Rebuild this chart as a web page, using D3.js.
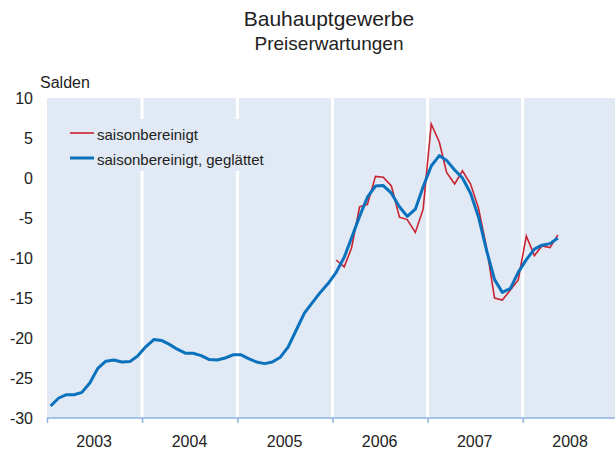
<!DOCTYPE html>
<html>
<head>
  <meta charset="utf-8">
  <script src="https://cdn.jsdelivr.net/npm/d3@7"></script>
  <style>
    body { margin: 0; background: #fff; }
    text { font-family: "Liberation Sans", Arial, sans-serif; fill: #222; }
  </style>
</head>
<body>
<svg id="chart" width="615" height="452"></svg>
<script>
  // year labels on the x axis
  let years = ["2003", "2004", "2005", "2006", "2007", "2008"]
  let yTicks = [-30, -25, -20, -15, -10, -5, 0, 5, 10]

  // saisonbereinigt, geglättet: monthly from Jan 2003
  let smoothStart = [2003, 0]
  let smoothed = [
    -28.5, -27.5, -27.1, -27.1, -26.8, -25.6, -23.8, -22.9, -22.75, -23.0, -22.95, -22.25,
    -21.1, -20.2, -20.3, -20.8, -21.4, -21.9, -21.9, -22.2, -22.7, -22.75, -22.5, -22.1,
    -22.1, -22.6, -23.0, -23.2, -23.0, -22.4, -21.1, -19.0, -16.9, -15.6, -14.3, -13.2,
    -11.8, -9.9, -7.5, -4.8, -2.4, -1.0, -0.95, -1.9, -3.6, -4.8, -3.9, -1.1,
    1.5, 2.8, 2.2, 1.0, 0.0, -1.9, -4.8, -9.0, -12.7, -14.3, -13.8, -11.8,
    -10.2, -8.9, -8.4, -8.2, -7.5
  ]

  // saisonbereinigt: monthly from Jan 2006
  let rawStart = [2006, 0]
  let raw = [
    -10.25, -11.1, -8.75, -3.6, -3.3, 0.2, 0.1, -1.0, -4.9, -5.2, -6.8, -3.9,
    6.75, 4.5, 0.7, -0.75, 0.9, -0.75, -3.7, -8.6, -15.0, -15.25, -14.0, -12.75,
    -7.25, -9.7, -8.5, -8.7, -7.1
  ]

  let pl = 47, pr = 615, pt = 98, pb = 418

  let svg = d3.select("#chart")

  let x = d3.scaleTime()
            .domain([new Date(2003, 0, 1), new Date(2009, 0, 1)])
            .range([pl, 618])

  let y = d3.scaleLinear()
            .domain([-30, 10])
            .range([pb, pt])

  let toPoints = (start, vals) => vals.map((v, i) => [new Date(start[0], start[1] + i, 15), v])

  // plot background
  svg.append("rect")
     .attr("x", pl).attr("y", pt)
     .attr("width", pr - pl).attr("height", pb - pt)
     .attr("fill", "#e1e9f4")

  // white year separators
  let yearStarts = years.map(d => new Date(+d, 0, 1))
  svg.selectAll("line.grid")
     .data(yearStarts.slice(1))
     .enter().append("line")
     .attr("class", "grid")
     .attr("x1", d => x(d)).attr("x2", d => x(d))
     .attr("y1", pt).attr("y2", pb)
     .attr("stroke", "#fff")
     .attr("stroke-width", 3)

  // legend box hides the separators
  svg.append("rect")
     .attr("x", 62).attr("y", 119)
     .attr("width", 210).attr("height", 52)
     .attr("fill", "#e1e9f4")

  // x axis
  let xAxis = svg.append("g")
     .attr("transform", `translate(0,${pb})`)
     .call(d3.axisBottom(x).tickValues(yearStarts).tickSize(5).tickFormat(""))
  xAxis.selectAll("path, line").attr("stroke", "#8db3e2").attr("stroke-width", 1.5)
  xAxis.select(".domain").attr("d", `M${pl},0H${pr}`)

  svg.selectAll("text.year")
     .data(years)
     .enter().append("text")
     .attr("class", "year")
     .attr("x", d => x(new Date(+d, 6, 1)))
     .attr("y", 447)
     .attr("text-anchor", "middle")
     .attr("font-size", 16)
     .text(d => d)

  // y axis labels
  let yAxis = svg.append("g")
     .attr("transform", `translate(${pl},0)`)
     .call(d3.axisLeft(y).tickValues(yTicks).tickSize(0).tickPadding(14).tickFormat(d => String(d)))
  yAxis.select(".domain").remove()
  yAxis.selectAll("text")
       .attr("font-size", 16)
       .attr("fill", "#222")
       .style("font-family", "'Liberation Sans', Arial, sans-serif")

  let line = d3.line()
               .x(d => x(d[0]))
               .y(d => y(d[1]))

  svg.append("path")
     .datum(toPoints(rawStart, raw))
     .attr("d", line)
     .attr("fill", "none")
     .attr("stroke", "#c8232f")
     .attr("stroke-width", 1.6)

  svg.append("path")
     .datum(toPoints(smoothStart, smoothed))
     .attr("d", line)
     .attr("fill", "none")
     .attr("stroke", "#0a72bd")
     .attr("stroke-width", 3)
     .attr("stroke-linejoin", "round")

  // legend
  let legend = [["saisonbereinigt", "#c8232f", 1.6, 133], ["saisonbereinigt, geglättet", "#0a72bd", 3, 158]]
  legend.forEach(([label, color, w, ly]) => {
    svg.append("line")
       .attr("x1", 70).attr("x2", 94)
       .attr("y1", ly).attr("y2", ly)
       .attr("stroke", color).attr("stroke-width", w)
    svg.append("text")
       .attr("x", 97).attr("y", ly + 7)
       .attr("font-size", 15)
       .text(label)
  })

  // titles
  svg.append("text")
     .attr("x", 329).attr("y", 26)
     .attr("text-anchor", "middle")
     .attr("font-size", 21)
     .text("Bauhauptgewerbe")

  svg.append("text")
     .attr("x", 329).attr("y", 50)
     .attr("text-anchor", "middle")
     .attr("font-size", 19)
     .text("Preiserwartungen")

  svg.append("text")
     .attr("x", 40).attr("y", 88)
     .attr("font-size", 16)
     .text("Salden")
</script>
</body>
</html>
